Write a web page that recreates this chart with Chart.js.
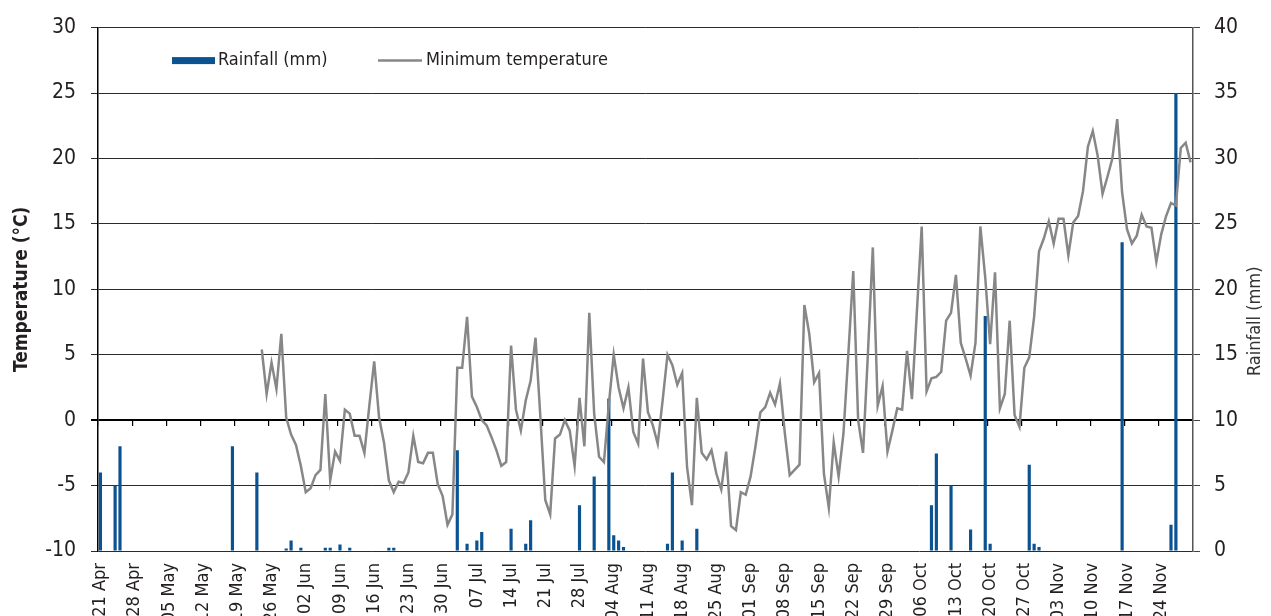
<!DOCTYPE html>
<html>
<head>
<meta charset="utf-8">
<script src="https://cdn.jsdelivr.net/npm/chart.js@4.4.1/dist/chart.umd.min.js"></script>
<style>
  html, body { margin: 0; padding: 0; width: 1271px; height: 616px; overflow: hidden; background: #fff; }
  #wrap { position: relative; width: 1271px; height: 680px; }
</style>
</head>
<body>
<div id="wrap"><canvas id="c"></canvas></div>
<script>
// ---------------- DATA ----------------
const firstDay = '21 Apr';          // first category
const dayCount = 224;               // 21 Apr .. 30 Nov (daily categories)
const tickEvery = 7;                // weekly labels / tick marks

// Minimum temperature (°C), daily from 24 May to 30 Nov
const tempStart = '24 May';
const minTemp = [
  5.4, 2.0, 4.4, 2.4, 6.6, 0.2, -1.1,
  -1.9, -3.5, -5.5, -5.2, -4.2, -3.8, 2.0,
  -4.6, -2.4, -3.1, 0.8, 0.5, -1.2, -1.2,
  -2.5, 1.1, 4.5, 0.2, -1.7, -4.6, -5.5,
  -4.7, -4.8, -4.0, -1.2, -3.2, -3.3, -2.5,
  -2.5, -4.9, -5.8, -8.0, -7.2, 4.0, 4.0,
  7.9, 1.8, 1.0, 0.0, -0.4, -1.3, -2.3,
  -3.5, -3.2, 5.7, 0.8, -0.8, 1.5, 3.0,
  6.3, 0.2, -6.1, -7.2, -1.4, -1.1, 0.0,
  -0.8, -3.5, 1.7, -2.0, 8.2, 0.5, -2.8,
  -3.2, 1.2, 5.0, 2.5, 0.9, 2.5, -0.9,
  -1.8, 4.7, 0.6, -0.4, -1.8, 1.5, 5.0,
  4.2, 2.7, 3.6, -3.6, -6.5, 1.7, -2.5,
  -3.0, -2.3, -4.1, -5.3, -2.4, -8.1, -8.4,
  -5.5, -5.7, -4.3, -2.0, 0.6, 1.0, 2.1,
  1.2, 2.8, -1.0, -4.2, -3.8, -3.4, 8.8,
  6.6, 2.9, 3.6, -4.1, -6.7, -1.7, -4.3,
  -1.0, 5.1, 11.4, 0.0, -2.5, 5.1, 13.2,
  1.1, 2.6, -2.4, -0.8, 0.9, 0.8, 5.3,
  1.6, 8.2, 14.8, 2.2, 3.2, 3.3, 3.7,
  7.6, 8.2, 11.1, 5.9, 4.7, 3.4, 5.9,
  14.8, 10.9, 5.8, 11.3, 0.9, 2.0, 7.6,
  0.4, -0.5, 4.0, 4.8, 7.9, 12.9, 13.9,
  15.2, 13.5, 15.4, 15.4, 12.6, 15.1, 15.6,
  17.5, 20.9, 22.1, 20.2, 17.3, 18.6, 20.0,
  23.0, 17.4, 14.6, 13.5, 14.1, 15.7, 14.8,
  14.7, 12.1, 14.2, 15.6, 16.6, 16.4, 20.8,
  21.2, 19.7
];

// Rainfall (mm) on the days it rained
const rainDates = [
  '21 Apr', '24 Apr', '25 Apr', '18 May', '23 May', '29 May', '30 May', '01 Jun',
  '06 Jun', '07 Jun', '09 Jun', '11 Jun', '19 Jun', '20 Jun', '03 Jul', '05 Jul',
  '07 Jul', '08 Jul', '14 Jul', '17 Jul', '18 Jul', '28 Jul', '31 Jul', '03 Aug',
  '04 Aug', '05 Aug', '06 Aug', '15 Aug', '16 Aug', '18 Aug', '21 Aug', '08 Oct',
  '09 Oct', '12 Oct', '16 Oct', '19 Oct', '20 Oct', '28 Oct', '29 Oct', '30 Oct',
  '16 Nov', '26 Nov', '27 Nov'
];
const rainMm = [
  6.0, 5.0, 8.0, 8.0, 6.0, 0.2, 0.8, 0.25,
  0.25, 0.25, 0.5, 0.25, 0.25, 0.25, 7.7, 0.55,
  0.8, 1.45, 1.7, 0.55, 2.35, 3.5, 5.7, 11.65,
  1.2, 0.8, 0.3, 0.55, 6.0, 0.8, 1.7, 3.5,
  7.45, 5.0, 1.65, 17.95, 0.55, 6.6, 0.55, 0.3,
  23.6, 2.0, 35.0
];

const tempTicks = { min: -10, max: 30, step: 5 };
const rainTicks = { min: 0, max: 40, step: 5 };

// ---------------- BUILD ----------------
const MONTHS = ['Jan','Feb','Mar','Apr','May','Jun','Jul','Aug','Sep','Oct','Nov','Dec'];
function fmt(d) { return String(d.getUTCDate()).padStart(2, '0') + ' ' + MONTHS[d.getUTCMonth()]; }
const categories = [];
{
  const [dd, mon] = firstDay.split(' ');
  const start = Date.UTC(2001, MONTHS.indexOf(mon), +dd);
  for (let i = 0; i < dayCount; i++) categories.push(fmt(new Date(start + i * 86400000)));
}
const t0 = categories.indexOf(tempStart);
const tempData = minTemp.map((v, i) => ({ x: categories[t0 + i], y: v }));
const rainData = rainDates.map((d, i) => ({ x: d, y: rainMm[i] }));

const FONT = "'Liberation Sans Narrow', 'DejaVu Sans Condensed', 'Roboto Condensed', sans-serif";
const TEXT = '#231f20';
const BLUE = '#0b5290';
const GRAY = '#878787';

const overlay = {
  id: 'overlay',
  afterDraw(chart) {
    const { ctx, chartArea } = chart;
    const ds = chart.data.datasets;
    ctx.save();
    ctx.font = '18px ' + FONT;
    ctx.textBaseline = 'middle';
    const y = chartArea.top + 33;
    let x = chartArea.left + 74;
    ctx.fillStyle = ds[1].backgroundColor;
    ctx.fillRect(x, y - 3.5, 43, 7);
    ctx.fillStyle = TEXT;
    ctx.fillText(ds[1].label, x + 46, y);
    x = chartArea.left + 280;
    ctx.strokeStyle = ds[0].borderColor;
    ctx.lineWidth = 2.5;
    ctx.beginPath(); ctx.moveTo(x, y); ctx.lineTo(x + 44, y); ctx.stroke();
    ctx.fillText(ds[0].label, x + 48, y);
    // right axis title, reading bottom to top
    const s = chart.scales.y2;
    ctx.translate(s.right - 16, (chartArea.top + chartArea.bottom) / 2 + 32);
    ctx.rotate(-Math.PI / 2);
    ctx.textAlign = 'center';
    ctx.fillStyle = '#333';
    ctx.font = '18px ' + FONT;
    ctx.fillText('Rainfall (mm)', 0, 0);
    ctx.restore();
  }
};

new Chart(document.getElementById('c'), {
  type: 'bar',
  data: {
    labels: categories,
    datasets: [
      {
        type: 'line', label: 'Minimum temperature', data: tempData,
        yAxisID: 'y', xAxisID: 'x', borderColor: GRAY, borderWidth: 2.5,
        pointRadius: 0, tension: 0, order: 0
      },
      {
        type: 'bar', label: 'Rainfall (mm)', data: rainData,
        yAxisID: 'y2', xAxisID: 'x', backgroundColor: BLUE,
        barPercentage: 0.65, categoryPercentage: 1, order: 1
      }
    ]
  },
  options: {
    responsive: true, maintainAspectRatio: false, animation: false,
    devicePixelRatio: 1,
    layout: { padding: { top: 24, left: 0, right: 0, bottom: 0 } },
    plugins: { legend: { display: false }, tooltip: { enabled: false } },
    scales: {
      x: {
        type: 'category', position: 'bottom', offset: true,
        grid: { display: false, drawTicks: false, offset: true },
        border: { display: false },
        ticks: {
          autoSkip: false, minRotation: 90, maxRotation: 90, padding: 12,
          color: TEXT, font: { family: FONT, size: 18 },
          callback: (v, i) => (i % tickEvery === 0 ? categories[i] : '')
        },
        afterFit: (s) => { s.height = 129; }
      },
      xt: {
        type: 'category', axis: 'x', position: { y: 0 }, offset: true,
        grid: {
          offset: true, drawOnChartArea: false, drawTicks: true, tickLength: 6,
          lineWidth: 1.2,
          color: (c) => (c.index % tickEvery === 0 ? '#000' : 'rgba(0,0,0,0)')
        },
        border: { display: false },
        ticks: { display: false, autoSkip: false }
      },
      y: {
        position: 'left', min: tempTicks.min, max: tempTicks.max,
        ticks: { stepSize: tempTicks.step, padding: 15, color: TEXT, font: { family: FONT, size: 21 } },
        grid: {
          tickLength: 7,
          color: (c) => (c.tick && c.tick.value === 0 ? '#000' : '#2b2b2b'),
          lineWidth: (c) => (c.tick && c.tick.value === 0 ? 2 : 1)
        },
        border: { display: true, color: '#000', width: 1.5 },
        title: {
          display: true, text: 'Temperature (°C)', color: TEXT,
          font: { family: FONT, size: 19, weight: 'bold' }, padding: { top: 11, bottom: 0 }
        },
        afterFit: (s) => { s.width = 98; }
      },
      y2: {
        position: 'right', min: rainTicks.min, max: rainTicks.max,
        ticks: { stepSize: rainTicks.step, padding: 14, color: TEXT, font: { family: FONT, size: 21 } },
        grid: { drawOnChartArea: false, tickLength: 7, color: '#444' },
        border: { display: true, color: '#555', width: 1.5 },
        afterFit: (s) => { s.width = 78; }
      }
    }
  },
  plugins: [overlay]
});
</script>
</body>
</html>
